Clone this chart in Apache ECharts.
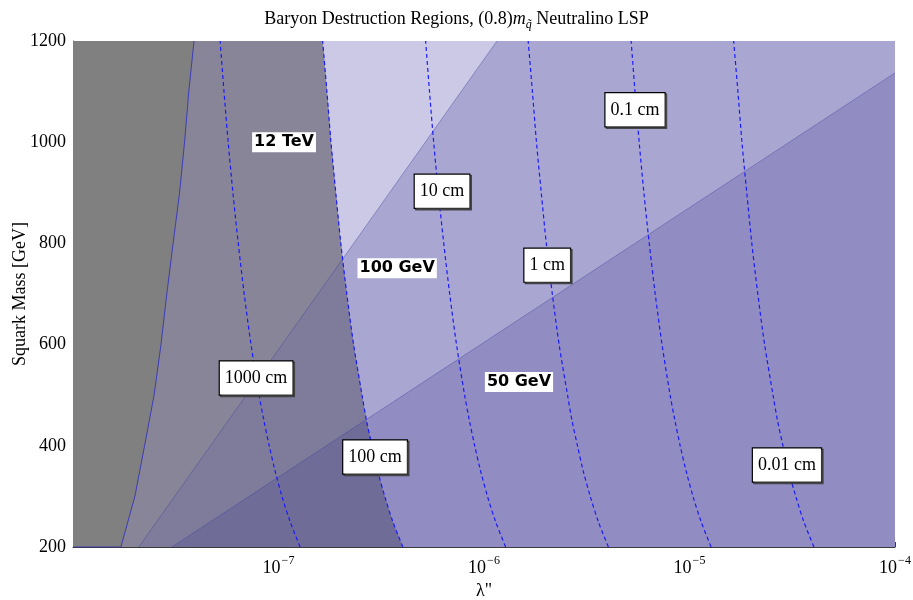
<!DOCTYPE html>
<html>
<head>
<meta charset="utf-8">
<script src="https://cdn.jsdelivr.net/npm/echarts@6/dist/echarts.min.js"></script>
<style>
  html, body { margin: 0; padding: 0; background: #ffffff; }
  #chart { width: 913px; height: 600px; }
</style>
</head>
<body>
<div id="chart"></div>
<script>
// Squark masses (GeV) at which the decay-length contours are sampled
const contourMass = [200, 250, 300, 350, 400, 450, 500, 600, 700, 800, 900, 1000, 1100, 1200];

// Coupling λ'' along each LSP decay-length contour
const contour1000cm = [1.274e-7, 1.139e-7, 1.040e-7, 9.63e-8, 9.01e-8, 8.49e-8, 8.05e-8, 7.35e-8, 6.81e-8, 6.37e-8, 6.00e-8, 5.69e-8, 5.43e-8, 5.20e-8];
const contour100cm  = [4.03e-7, 3.60e-7, 3.29e-7, 3.04e-7, 2.85e-7, 2.68e-7, 2.55e-7, 2.32e-7, 2.15e-7, 2.01e-7, 1.90e-7, 1.80e-7, 1.72e-7, 1.64e-7];
const contour10cm   = [1.274e-6, 1.139e-6, 1.040e-6, 9.63e-7, 9.01e-7, 8.49e-7, 8.05e-7, 7.35e-7, 6.81e-7, 6.37e-7, 6.00e-7, 5.69e-7, 5.43e-7, 5.20e-7];
const contour1cm    = [4.03e-6, 3.60e-6, 3.29e-6, 3.04e-6, 2.85e-6, 2.68e-6, 2.55e-6, 2.32e-6, 2.15e-6, 2.01e-6, 1.90e-6, 1.80e-6, 1.72e-6, 1.64e-6];
const contour01cm   = [1.274e-5, 1.139e-5, 1.040e-5, 9.63e-6, 9.01e-6, 8.49e-6, 8.05e-6, 7.35e-6, 6.81e-6, 6.37e-6, 6.00e-6, 5.69e-6, 5.43e-6, 5.20e-6];
const contour001cm  = [4.03e-5, 3.60e-5, 3.29e-5, 3.04e-5, 2.85e-5, 2.68e-5, 2.55e-5, 2.32e-5, 2.15e-5, 2.01e-5, 1.90e-5, 1.80e-5, 1.72e-5, 1.64e-5];

// Left-most excluded band (solid edge)
const edgeMass   = [200, 300, 400, 500, 600, 700, 800, 900, 1000, 1100, 1200];
const edgeLambda = [1.71e-8, 2.00e-8, 2.23e-8, 2.48e-8, 2.68e-8, 2.86e-8, 3.07e-8, 3.30e-8, 3.49e-8, 3.66e-8, 3.88e-8];

// Straight region boundaries (end points)
const steepLineLambda   = [2.09e-8, 1.156e-6];
const steepLineMass     = [200, 1200];
const shallowLineLambda = [3.03e-8, 1e-4];
const shallowLineMass   = [200, 1137];

// Axis ranges
const lambdaRange = [1e-8, 1e-4];
const massRange = [200, 1200];

// Decay-length labels
const lengthLabels = ['1000 cm', '100 cm', '10 cm', '1 cm', '0.1 cm', '0.01 cm'];
const lengthLabelLambda = [7.78e-8, 2.95e-7, 6.25e-7, 2.03e-6, 5.43e-6, 2.98e-5];
const lengthLabelMass = [534, 378, 903, 757, 1064, 362];

// Region labels
const regionLabels = ['12 TeV', '100 GeV', '50 GeV'];
const regionLabelLambda = [1.064e-7, 3.78e-7, 1.48e-6];
const regionLabelMass = [1000, 751, 526];

const zip = (xs, ys) => xs.map((x, i) => [x, ys[i]]);

// region fills, drawn bottom to top
const regionFill = ['#918cc1', '#a9a7d1', '#cbc9e5', '#6f6c97', '#7e7b9b', '#878597', '#808080'];

function side(p, a, b) {
  return (b[0] - a[0]) * (p[1] - a[1]) - (b[1] - a[1]) * (p[0] - a[0]);
}
// keep the part of a polygon lying on the same side of line a-b as point ref
function clipHalf(poly, a, b, ref) {
  const s0 = Math.sign(side(ref, a, b));
  const out = [];
  for (let i = 0; i < poly.length; i++) {
    const P = poly[i], Q = poly[(i + 1) % poly.length];
    const sp = side(P, a, b) * s0, sq = side(Q, a, b) * s0;
    if (sp >= 0) out.push(P);
    if ((sp >= 0) !== (sq >= 0)) {
      const t = sp / (sp - sq);
      out.push([P[0] + t * (Q[0] - P[0]), P[1] + t * (Q[1] - P[1])]);
    }
  }
  return out;
}

function renderRegion(params, api) {
  const id = api.value(2);
  const c = p => api.coord(p);
  const x0 = lambdaRange[0], x1 = lambdaRange[1], y0 = massRange[0], y1 = massRange[1];
  const rect = [[x0, y0], [x1, y0], [x1, y1], [x0, y1]].map(c);
  const topLeft = c([x0, y1]);
  const sA = c([steepLineLambda[0], steepLineMass[0]]), sB = c([steepLineLambda[1], steepLineMass[1]]);
  const hA = c([shallowLineLambda[0], shallowLineMass[0]]), hB = c([shallowLineLambda[1], shallowLineMass[1]]);
  const leftOf100 = [[x0, y0]].concat(zip(contour100cm, contourMass), [[x0, y1]]).map(c);
  const leftOfEdge = [[x0, y0]].concat(zip(edgeLambda, edgeMass), [[x0, y1]]).map(c);
  let pts;
  switch (id) {
    case 0: pts = rect; break;
    case 1: pts = clipHalf(rect, hA, hB, topLeft); break;
    case 2: pts = clipHalf(rect, sA, sB, topLeft); break;
    case 3: pts = leftOf100; break;
    case 4: pts = clipHalf(leftOf100, hA, hB, topLeft); break;
    case 5: pts = clipHalf(leftOf100, sA, sB, topLeft); break;
    default: pts = leftOfEdge;
  }
  return { type: 'polygon', shape: { points: pts }, style: { fill: regionFill[id], stroke: null }, silent: true };
}

const serif = 'Liberation Serif';
const contourStyle = { color: '#1a1aff', width: 1.2, type: [4, 3] };
const contourSeries = [contour1000cm, contour100cm, contour10cm, contour1cm, contour01cm, contour001cm].map(arr => ({
  type: 'line', data: zip(arr, contourMass), symbol: 'none', smooth: 0.3,
  lineStyle: contourStyle, silent: true, z: 4, clip: true
}));

const supMinus = e => '{b|10}{s|' + (e < 0 ? '\u2212' + (-e) : e) + '}';

const option = {
  animation: false,
  backgroundColor: '#ffffff',
  title: {
    text: '{n|Baryon Destruction Regions, (0.8)}{i|m}{q|q\u0303}{n| Neutralino LSP}',
    left: 'center', top: 2,
    textStyle: {
      fontWeight: 'normal',
      rich: {
        n: { fontFamily: serif, fontSize: 18, fontWeight: 'normal', color: '#000', lineHeight: 24, verticalAlign: 'middle' },
        i: { fontFamily: serif, fontSize: 18, fontWeight: 'normal', fontStyle: 'italic', color: '#000', lineHeight: 24, verticalAlign: 'middle' },
        q: { fontFamily: serif, fontSize: 12, fontWeight: 'normal', fontStyle: 'italic', color: '#000', lineHeight: 24, verticalAlign: 'bottom' }
      }
    }
  },
  grid: { left: 73, right: 18, top: 41, bottom: 53, containLabel: false, outerBoundsMode: 'none' },
  xAxis: {
    type: 'log', logBase: 10, min: lambdaRange[0], max: lambdaRange[1],
    name: 'λ"', nameLocation: 'middle', nameGap: 33,
    nameTextStyle: { fontFamily: serif, fontSize: 18, color: '#000' },
    axisLine: { lineStyle: { color: '#3a3a3a', width: 1 } },
    axisTick: { inside: true, length: 5, lineStyle: { color: '#3a3a3a' } },
    minorTick: { show: false },
    splitLine: { show: false },
    axisLabel: {
      showMinLabel: false, margin: 8,
      formatter: v => supMinus(Math.round(Math.log10(v))),
      rich: {
        b: { fontFamily: serif, fontSize: 18, color: '#000', lineHeight: 22, verticalAlign: 'bottom' },
        s: { fontFamily: serif, fontSize: 12, color: '#000', lineHeight: 22, verticalAlign: 'top', padding: [0, 0, 6, 1] }
      }
    }
  },
  yAxis: {
    type: 'value', min: massRange[0], max: massRange[1], interval: 200,
    name: 'Squark Mass [GeV]', nameLocation: 'middle', nameGap: 44, nameMoveOverlap: false,
    nameTextStyle: { fontFamily: serif, fontSize: 18, color: '#000' },
    axisLine: { show: true, lineStyle: { color: '#3a3a3a', width: 1 } },
    axisTick: { show: true, inside: true, length: 6, lineStyle: { color: '#3a3a3a' } },
    minorTick: { show: true, splitNumber: 4, length: 3, lineStyle: { color: '#3a3a3a' } },
    splitLine: { show: false },
    axisLabel: { fontFamily: serif, fontSize: 18, color: '#000', margin: 7, formatter: v => String(v) }
  },
  series: [
    {
      type: 'custom', coordinateSystem: 'cartesian2d', renderItem: renderRegion, clip: true, z: 1, silent: true,
      encode: { x: 0, y: 1 },
      data: [0, 1, 2, 3, 4, 5, 6].map(i => [1e-6, 700, i])
    },
    {
      type: 'line', data: zip(steepLineLambda, steepLineMass), symbol: 'none', silent: true, z: 3,
      lineStyle: { color: 'rgba(70,70,160,0.55)', width: 0.8 }
    },
    {
      type: 'line', data: zip(shallowLineLambda, shallowLineMass), symbol: 'none', silent: true, z: 3,
      lineStyle: { color: 'rgba(70,70,160,0.55)', width: 0.8 }
    },
    {
      type: 'line', data: [[lambdaRange[0], massRange[0]]].concat(zip(edgeLambda, edgeMass)), symbol: 'none', silent: true, z: 3,
      lineStyle: { color: '#3c3cb8', width: 1 }
    },
    ...contourSeries,
    {
      type: 'scatter', z: 6, silent: true, symbolSize: 1, itemStyle: { color: 'transparent', opacity: 1 },
      data: lengthLabels.map((t, i) => ({ name: t, value: [lengthLabelLambda[i], lengthLabelMass[i]] })),
      label: {
        show: true, position: 'inside', formatter: p => p.name, opacity: 1,
        fontFamily: serif, fontSize: 18, color: '#000', lineHeight: 20,
        backgroundColor: '#ffffff', borderColor: '#000', borderWidth: 1.2,
        padding: [7, 5, 6, 5],
        shadowColor: 'rgba(60,60,60,0.9)', shadowOffsetX: 1.5, shadowOffsetY: 1.5, shadowBlur: 0
      }
    },
    {
      type: 'scatter', z: 6, silent: true, symbolSize: 1, itemStyle: { color: 'transparent', opacity: 1 },
      data: regionLabels.map((t, i) => ({ name: t, value: [regionLabelLambda[i], regionLabelMass[i]] })),
      label: {
        show: true, position: 'inside', formatter: p => p.name, opacity: 1,
        fontFamily: 'DejaVu Sans', fontWeight: 'bold', fontSize: 16, color: '#000', lineHeight: 19,
        backgroundColor: '#ffffff', padding: [1, 2, 0, 2]
      }
    }
  ]
};

const chart = echarts.init(document.getElementById('chart'), null, { renderer: 'canvas' });
chart.setOption(option);
</script>
</body>
</html>
